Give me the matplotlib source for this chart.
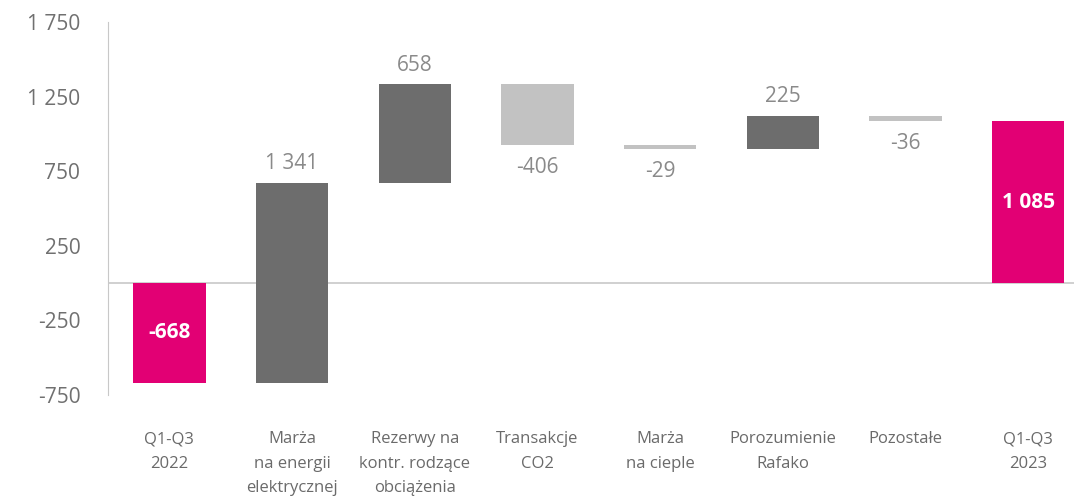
import numpy as np
from matplotlib import pyplot as plt

plt.rcParams['font.family'] = ['Open Sans', 'DejaVu Sans']

categories = ['Q1-Q3\n2022', 'Marża\nna energii\nelektrycznej', 'Rezerwy na\nkontr. rodzące\nobciążenia',
              'Transakcje\nCO2', 'Marża\nna cieple', 'Porozumienie\nRafako', 'Pozostałe', 'Q1-Q3\n2023']
changes = [-668, 1341, 658, -406, -29, 225, -36, 1085]
kinds = ['total', 'delta', 'delta', 'delta', 'delta', 'delta', 'delta', 'total']
yticks = [-750, -250, 250, 750, 1250, 1750]

MAGENTA = '#e20074'
DARK = '#6d6d6d'
LIGHT = '#c2c2c2'
TXT = '#8a8a8a'


def fmt(v):
    s = f'{abs(v):,}'.replace(',', ' ')
    return ('-' if v < 0 else '') + s


fig = plt.figure(figsize=(10.74, 4.99), dpi=100)
ax = fig.add_axes([0.1006, 0.2084, 0.899, 0.7476])

x = np.arange(len(changes))
w = 0.59
running = 0
for i, (v, k) in enumerate(zip(changes, kinds)):
    if k == 'total':
        bottom, height, color = 0, v, MAGENTA
        running = v
    else:
        bottom, height = running, v
        color = DARK if v > 0 else LIGHT
        running += v
    if i == 1:
        # first increment bar drawn from the bottom of the previous bar
        bottom, height = changes[0], v
    ax.bar(x[i], height, w, bottom=bottom, color=color, zorder=2)
    if k == 'total':
        ax.text(x[i], bottom + height / 2, fmt(v), ha='center', va='center',
                color='white', fontsize=15, fontweight='bold', zorder=3)
    elif v > 0:
        ax.text(x[i], bottom + height + 60, fmt(v), ha='center', va='bottom',
                color=TXT, fontsize=15, zorder=3)
    else:
        ax.text(x[i], bottom + height - 80, fmt(v), ha='center', va='top',
                color=TXT, fontsize=15, zorder=3)

ax.axhline(0, color='#c8c8c8', lw=1.2, zorder=1)
ax.set_ylim(-750, 1750)
ax.set_xlim(-0.5, 7.37)
ax.set_yticks(yticks)
ax.set_yticklabels([fmt(t) for t in yticks], fontsize=15, color='#707070')
ax.set_xticks(x)
ax.set_xticklabels(categories, fontsize=12, color='#6a6a6a', linespacing=1.7)
ax.tick_params(axis='both', length=0)
ax.tick_params(axis='y', pad=20)
ax.tick_params(axis='x', pad=26)
for s in ['top', 'right', 'bottom']:
    ax.spines[s].set_visible(False)
ax.spines['left'].set_color('#c8c8c8')

fig.savefig('out.png', dpi=100)
